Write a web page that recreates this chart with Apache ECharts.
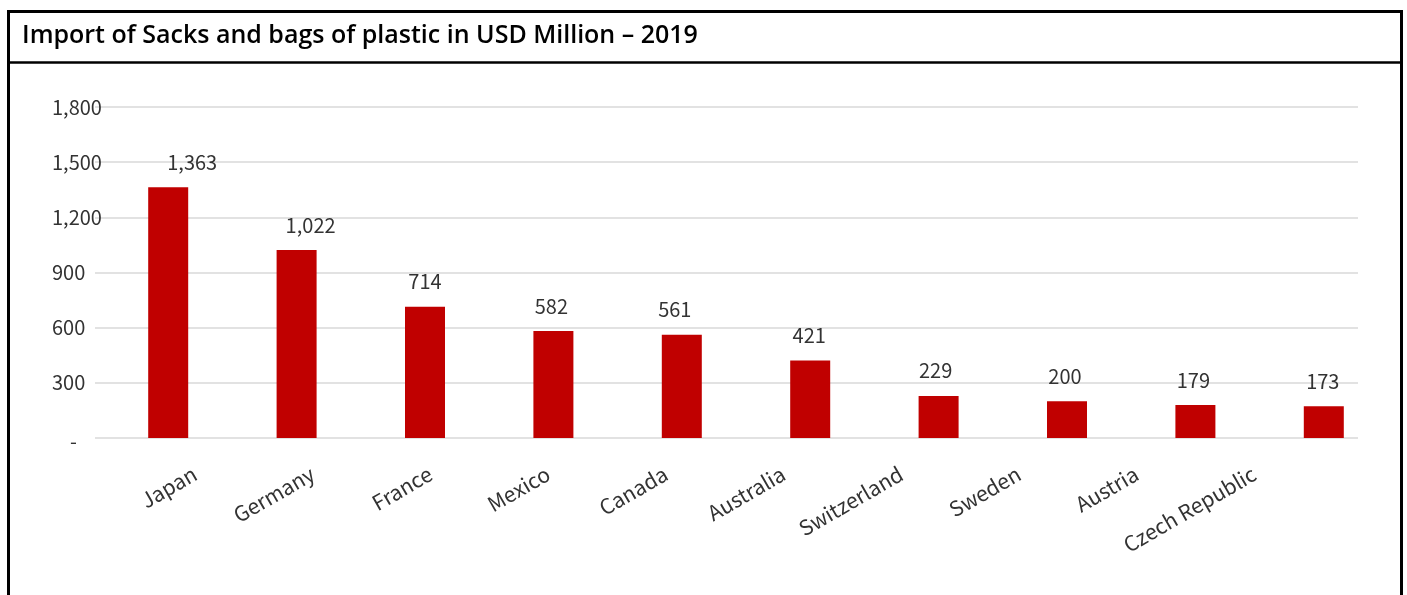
<!DOCTYPE html>
<html>
<head>
<meta charset="utf-8">
<script src="https://cdn.jsdelivr.net/npm/echarts@6/dist/echarts.min.js"></script>
<style>
  html, body { margin: 0; padding: 0; background: #fff; }
  #chart { width: 1407px; height: 595px; }
</style>
</head>
<body>
<div id="chart"></div>
<script>
// Import of sacks and bags of plastic, 2019, USD million
const countries = ['Japan', 'Germany', 'France', 'Mexico', 'Canada', 'Australia',
                   'Switzerland', 'Sweden', 'Austria', 'Czech Republic'];
const importValues = [1363, 1022, 714, 582, 561, 421, 229, 200, 179, 173];
const yTicks = [0, 300, 600, 900, 1200, 1500, 1800];
const chartTitle = 'Import of Sacks and bags of plastic in USD Million \u2013 2019';

// horizontal nudges for the value labels (px)
const labelNudge = [24, 14, 0, -2, -7, -1, -3, -2, -2, -1];

const FONT = '"Noto Sans CJK JP", "Noto Sans", sans-serif';
const TEXT = '#333333';
const RED = '#C00000';
const yMax = yTicks[yTicks.length - 1];
const yStep = yTicks[1] - yTicks[0];

const fmt = v => v.toLocaleString('en-US');

const chart = echarts.init(document.getElementById('chart'), null, { renderer: 'canvas' });

const plotTop = 107, plotHeight = 331;

chart.setOption({
  animation: false,
  backgroundColor: '#ffffff',
  graphic: [
    { type: 'rect', shape: { x: 8.5, y: 11.5, width: 1393, height: 640 },
      style: { fill: 'none', stroke: '#000', lineWidth: 3 }, z: 10 },
    { type: 'line', shape: { x1: 8.5, y1: 62.5, x2: 1401.5, y2: 62.5 },
      style: { stroke: '#000', lineWidth: 2.5 }, z: 10 }
  ],
  title: {
    text: chartTitle,
    left: 17, top: 18,
    textStyle: { fontFamily: '"Open Sans", sans-serif', fontWeight: 600, fontSize: 25, color: '#000' }
  },
  grid: [
    // bars
    { left: 104, width: 1284, top: plotTop, height: plotHeight },
    // value gridlines and y labels
    { left: 95, width: 1263, top: plotTop, height: plotHeight },
    // category labels
    { left: 136, width: 1177, top: plotTop, height: plotHeight }
  ],
  xAxis: [
    { type: 'category', gridIndex: 0, data: countries,
      axisLine: { show: false }, axisTick: { show: false }, axisLabel: { show: false } },
    { type: 'category', gridIndex: 1, data: countries, show: false },
    { type: 'category', gridIndex: 2, data: countries,
      axisLine: { show: false }, axisTick: { show: false },
      axisLabel: { rotate: 30, margin: 34, fontSize: 21, fontFamily: FONT, color: TEXT, interval: 0 } }
  ],
  yAxis: [
    { type: 'value', gridIndex: 0, min: 0, max: yMax, interval: yStep, show: false },
    { type: 'value', gridIndex: 1, min: 0, max: yMax, interval: yStep,
      axisLine: { show: false }, axisTick: { show: false },
      splitLine: { show: true, lineStyle: { color: '#e2e2e2', width: 2 } },
      axisLabel: {
        align: 'left', margin: 43, fontSize: 20, fontFamily: FONT, color: TEXT,
        formatter: v => v === 0 ? '{dash|-}' : fmt(v),
        rich: { dash: { padding: [6, 0, 0, 18], fontSize: 20, fontFamily: FONT, color: TEXT } }
      } },
    { type: 'value', gridIndex: 2, min: 0, max: yMax, interval: yStep, show: false }
  ],
  series: [{
    type: 'bar',
    xAxisIndex: 0, yAxisIndex: 0,
    barWidth: 40,
    itemStyle: { color: RED },
    data: importValues.map((v, i) => ({
      value: v,
      label: { offset: [labelNudge[i], 0] }
    })),
    label: {
      show: true, position: 'top', distance: 15,
      fontSize: 20, fontFamily: FONT, color: TEXT,
      formatter: p => fmt(p.value)
    }
  }]
});
</script>
</body>
</html>
